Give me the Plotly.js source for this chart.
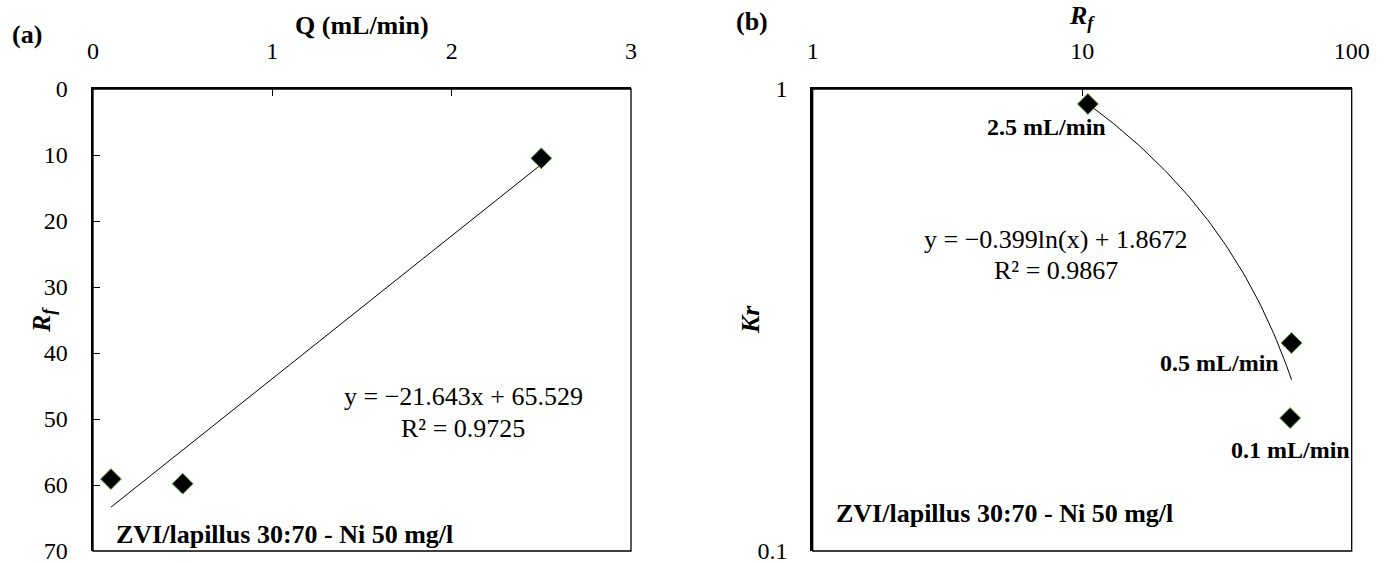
<!DOCTYPE html>
<html>
<head>
<meta charset="utf-8">
<script src="https://cdn.plot.ly/plotly-3.0.1.min.js"></script>
<style>html,body{margin:0;padding:0;background:#fff;}#chart{width:1388px;height:563px;}</style>
</head>
<body>
<div id="chart"></div>
<script>
// ---- data ----
const flowRates = [0.1, 0.5, 2.5];              // Q (mL/min)
const rfValues = [59.1, 59.8, 10.5];             // Rf for each Q
const krValues = [0.194, 0.282, 0.928];          // Kr for each Q
const flowLabels = ['0.1 mL/min', '0.5 mL/min', '2.5 mL/min'];
// trendline coefficients as printed on the chart
const linSlope = -21.643, linIntercept = 65.529, linR2 = 0.9725;
const logCoef = -0.399, logIntercept = 1.8672, logR2 = 0.9867;
const xTicksA = [0, 1, 2, 3];
const yTicksA = [0, 10, 20, 30, 40, 50, 60, 70];
const xTicksB = [1, 10, 100];
const yTicksB = [0.1, 1];
const noteText = 'ZVI/lapillus 30:70 - Ni 50 mg/l';

const W = 1388, H = 563;
const px = v => v / W, py = v => 1 - v / H;
const FONT = 'Liberation Serif, Times New Roman, serif';

// trendline (a): linear fit across data range
const xMin = Math.min(...flowRates), xMax = Math.max(...flowRates);
const linX = [xMin, xMax];
const linY = linX.map(x => linSlope * x + linIntercept);
// trendline (b): logarithmic fit across data range
const rMin = Math.min(...rfValues), rMax = Math.max(...rfValues);
const logX = [], logY = [];
for (let i = 0; i <= 80; i++) {
  const x = rMin * Math.pow(rMax / rMin, i / 80);
  logX.push(x); logY.push(logCoef * Math.log(x) + logIntercept);
}

const marker = {symbol: 'diamond', size: 16, color: '#000', line: {color: '#5e9c3c', width: 1}};

const traces = [
  {x: linX, y: linY, xaxis: 'x', yaxis: 'y', mode: 'lines', line: {color: '#000', width: 1}, hoverinfo: 'skip'},
  {x: flowRates, y: rfValues, xaxis: 'x', yaxis: 'y', mode: 'markers', marker: marker},
  {x: logX, y: logY, xaxis: 'x2', yaxis: 'y2', mode: 'lines', line: {color: '#000', width: 1}, hoverinfo: 'skip'},
  {x: rfValues, y: krValues, xaxis: 'x2', yaxis: 'y2', mode: 'markers', marker: marker}
];

const tickFont = {family: FONT, size: 24, color: '#000'};
const axisCommon = {
  showgrid: false, zeroline: false, showline: true, linecolor: '#000', linewidth: 2.5,
  ticks: 'inside', ticklen: 7, tickwidth: 1, tickcolor: '#000', tickfont: tickFont, mirror: false,
  ticklabeloverflow: 'allow'
};

const dA = [px(93), px(631)], dB = [px(812.7), px(1351.7)];
const dY = [1 - 551 / H, 1 - 89 / H];

const f = (size, extra) => Object.assign({family: FONT, size: size, color: '#000'}, extra || {});
const ann = (x, y, text, opts = {}) => Object.assign({
  xref: 'paper', yref: 'paper', x: px(x), y: py(y), text: text, showarrow: false,
  xanchor: 'center', yanchor: 'middle', font: f(26)
}, opts);

const layout = {
  width: W, height: H, margin: {l: 0, r: 0, t: 0, b: 0},
  paper_bgcolor: '#fff', plot_bgcolor: '#fff', showlegend: false,
  xaxis: Object.assign({}, axisCommon, {domain: dA, anchor: 'y', side: 'top', range: [0, 3], tickvals: xTicksA, ticklabelstandoff: 18}),
  yaxis: Object.assign({}, axisCommon, {domain: dY, anchor: 'x', range: [70, 0], tickvals: yTicksA, ticklabelstandoff: 18}),
  xaxis2: Object.assign({}, axisCommon, {domain: dB, anchor: 'y2', side: 'top', type: 'log', range: [0, 2], tickvals: xTicksB, ticktext: xTicksB.map(String), ticklabelstandoff: 18}),
  yaxis2: Object.assign({}, axisCommon, {domain: dY, anchor: 'x2', type: 'log', range: [-1, 0], tickvals: yTicksB, ticktext: yTicksB.map(String), ticklabelstandoff: 18}),
  shapes: [
    {type: 'rect', xref: 'paper', yref: 'paper', x0: dA[0], x1: dA[1], y0: dY[0], y1: dY[1], line: {color: '#000', width: 1.3}},
    {type: 'rect', xref: 'paper', yref: 'paper', x0: dB[0], x1: dB[1], y0: dY[0], y1: dY[1], line: {color: '#000', width: 1.3}}
  ],
  annotations: [
    ann(27, 34, '<b>(a)</b>'),
    ann(362, 25, '<b>Q (mL/min)</b>'),
    ann(43, 320, '<b><i>R</i></b><sub><b><i>f</i></b></sub>', {textangle: -90}),
    ann(463, 396, 'y = \u221221.643x + 65.529'),
    ann(463, 428, 'R\u00b2 = ' + linR2.toFixed(4)),
    ann(114, 534, '<b>' + noteText + '</b>', {xanchor: 'left'}),

    ann(752, 22, '<b>(b)</b>'),
    ann(1082, 17, '<b><i>R</i></b><sub><b><i>f</i></b></sub>'),
    ann(750, 320, '<b><i>Kr</i></b>', {textangle: -90}),
    ann(1056, 240, 'y = \u22120.399ln(x) + 1.8672'),
    ann(1056, 271, 'R\u00b2 = ' + logR2.toFixed(4)),
    ann(1046, 127, '<b>' + flowLabels[2] + '</b>', {font: f(24)}),
    ann(1219, 363, '<b>' + flowLabels[1] + '</b>', {font: f(24)}),
    ann(1290, 450, '<b>' + flowLabels[0] + '</b>', {font: f(24)}),
    ann(834, 513, '<b>' + noteText + '</b>', {xanchor: 'left'})
  ]
};

Plotly.newPlot('chart', traces, layout, {displayModeBar: false, staticPlot: true});
</script>
</body>
</html>
